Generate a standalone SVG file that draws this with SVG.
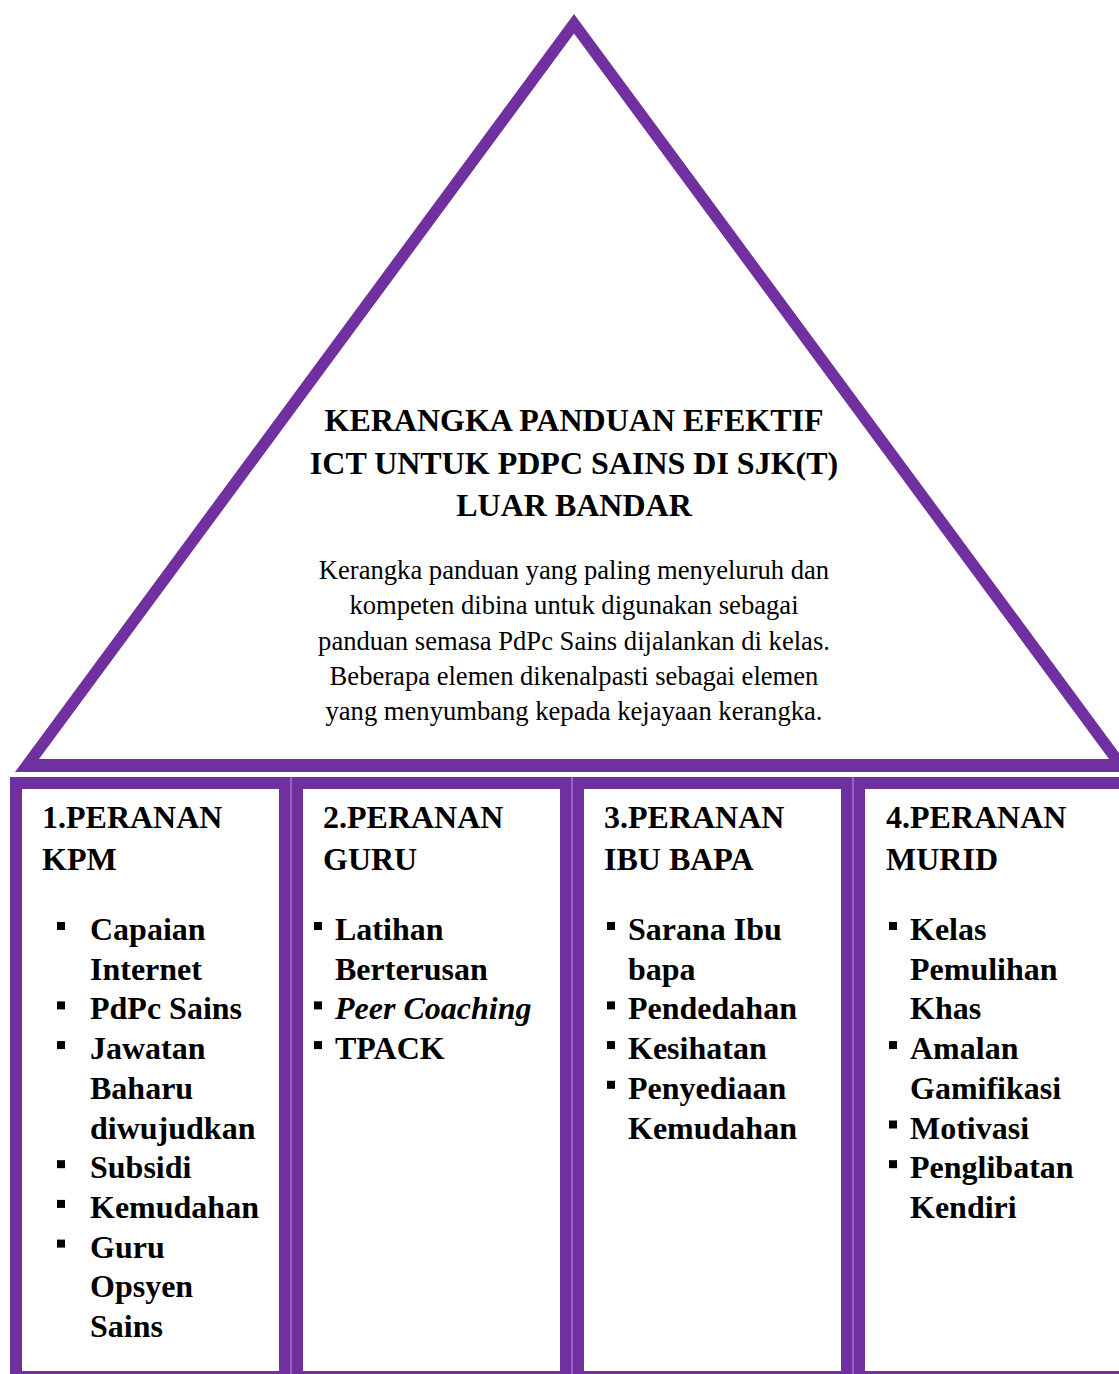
<svg xmlns="http://www.w3.org/2000/svg" width="1119" height="1374" viewBox="0 0 1119 1374">
<style>
.frame{fill:#7030A0;fill-rule:evenodd}
.col{fill:#fff;stroke:#7030A0;stroke-width:12}
.gap{stroke:#b99cd4;stroke-width:1}
.t{font-family:"Liberation Serif","Times New Roman",serif;fill:#000}
.title{font-size:32px;font-weight:bold;text-anchor:middle}
.body{font-size:26.6px;text-anchor:middle}
.h{font-size:32px;font-weight:bold}
.b{fill:#000}
</style>
<rect width="1119" height="1374" fill="#fff"/>
<g id="roof">
<path class="frame" d="M574,14 L1133,772 L15,772 Z M574,33.5 L1109,759 L39,759 Z"/>
<text class="t title" x="574" y="431">KERANGKA PANDUAN EFEKTIF</text>
<text class="t title" x="574" y="473.5">ICT UNTUK PDPC SAINS DI SJK(T)</text>
<text class="t title" x="574" y="516">LUAR BANDAR</text>
<text class="t body" x="574" y="579">Kerangka panduan yang paling menyeluruh dan</text>
<text class="t body" x="574" y="614.3">kompeten dibina untuk digunakan sebagai</text>
<text class="t body" x="574" y="649.6">panduan semasa PdPc Sains dijalankan di kelas.</text>
<text class="t body" x="574" y="684.9">Beberapa elemen dikenalpasti sebagai elemen</text>
<text class="t body" x="574" y="720.2">yang menyumbang kepada kejayaan kerangka.</text>
</g>
<g id="col1">
<rect class="col" x="16" y="783" width="269" height="594"/>
<text class="t h" x="42" y="828">1.PERANAN</text>
<text class="t h" x="42" y="870">KPM</text>
<g class="b">
<rect x="57" y="922" width="8" height="8"/>
<rect x="57" y="1001.4" width="8" height="8"/>
<rect x="57" y="1041.1" width="8" height="8"/>
<rect x="57" y="1160.2" width="8" height="8"/>
<rect x="57" y="1199.9" width="8" height="8"/>
<rect x="57" y="1239.6" width="8" height="8"/>
</g>
<text class="t h" x="90" y="940">Capaian</text>
<text class="t h" x="90" y="979.7">Internet</text>
<text class="t h" x="90" y="1019.4">PdPc Sains</text>
<text class="t h" x="90" y="1059.1">Jawatan</text>
<text class="t h" x="90" y="1098.8">Baharu</text>
<text class="t h" x="90" y="1138.5">diwujudkan</text>
<text class="t h" x="90" y="1178.2">Subsidi</text>
<text class="t h" x="90" y="1217.9">Kemudahan</text>
<text class="t h" x="90" y="1257.6">Guru</text>
<text class="t h" x="90" y="1297.3">Opsyen</text>
<text class="t h" x="90" y="1337">Sains</text>
</g>
<g id="col2">
<rect class="col" x="297" y="783" width="269" height="594"/>
<text class="t h" x="323" y="828">2.PERANAN</text>
<text class="t h" x="323" y="870">GURU</text>
<g class="b">
<rect x="314" y="922" width="8" height="8"/>
<rect x="314" y="1001.4" width="8" height="8"/>
<rect x="314" y="1041.1" width="8" height="8"/>
</g>
<text class="t h" x="335" y="940">Latihan</text>
<text class="t h" x="335" y="979.7">Berterusan</text>
<text class="t h" x="335" y="1019.4" font-style="italic">Peer Coaching</text>
<text class="t h" x="335" y="1059.1">TPACK</text>
</g>
<g id="col3">
<rect class="col" x="578" y="783" width="269" height="594"/>
<text class="t h" x="604" y="828">3.PERANAN</text>
<text class="t h" x="604" y="870">IBU BAPA</text>
<g class="b">
<rect x="607" y="922" width="8" height="8"/>
<rect x="607" y="1001.4" width="8" height="8"/>
<rect x="607" y="1041.1" width="8" height="8"/>
<rect x="607" y="1080.8" width="8" height="8"/>
</g>
<text class="t h" x="628" y="940">Sarana Ibu</text>
<text class="t h" x="628" y="979.7">bapa</text>
<text class="t h" x="628" y="1019.4">Pendedahan</text>
<text class="t h" x="628" y="1059.1">Kesihatan</text>
<text class="t h" x="628" y="1098.8">Penyediaan</text>
<text class="t h" x="628" y="1138.5">Kemudahan</text>
</g>
<g id="col4">
<rect class="col" x="859" y="783" width="269" height="594"/>
<text class="t h" x="886" y="828">4.PERANAN</text>
<text class="t h" x="886" y="870">MURID</text>
<g class="b">
<rect x="889" y="922" width="8" height="8"/>
<rect x="889" y="1041.1" width="8" height="8"/>
<rect x="889" y="1120.5" width="8" height="8"/>
<rect x="889" y="1160.2" width="8" height="8"/>
</g>
<text class="t h" x="910" y="940">Kelas</text>
<text class="t h" x="910" y="979.7">Pemulihan</text>
<text class="t h" x="910" y="1019.4">Khas</text>
<text class="t h" x="910" y="1059.1">Amalan</text>
<text class="t h" x="910" y="1098.8">Gamifikasi</text>
<text class="t h" x="910" y="1138.5">Motivasi</text>
<text class="t h" x="910" y="1178.2">Penglibatan</text>
<text class="t h" x="910" y="1217.9">Kendiri</text>
</g>
<g id="connectors">
<line class="gap" x1="291" y1="777" x2="291" y2="1374"/>
<line class="gap" x1="572" y1="777" x2="572" y2="1374"/>
<line class="gap" x1="853" y1="777" x2="853" y2="1374"/>
</g>
</svg>
